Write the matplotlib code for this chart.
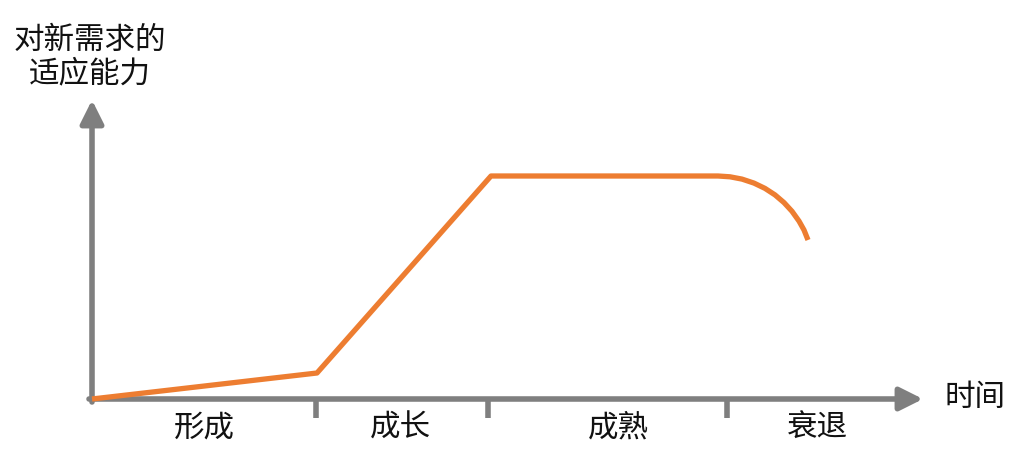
import numpy as np
import matplotlib.pyplot as plt

plt.rcParams['font.family'] = ['Noto Sans CJK SC', 'DejaVu Sans']

# stage boundaries on the time axis (arbitrary units)
stage_bounds = [0, 22.4, 39.6, 63.5]
axis_end_x = 83.1
axis_end_y = 29.9
stages = ['形成', '成长', '成熟', '衰退']
stage_label_x = [11.2, 30.8, 52.6, 72.5]

# adaptability curve
time = [0, 22.5, 39.9, 62.6, 63.8, 65.0, 66.2, 67.3, 68.3, 69.2, 70.0, 70.7,
        71.2, 71.6]
ability = [0, 2.6, 22.3, 22.3, 22.22, 21.99, 21.59, 21.06, 20.41, 19.64, 18.77,
           17.79, 16.9, 15.9]

grey = '#7f7f7f'
orange = '#ed7d31'

fig = plt.figure(figsize=(10.3, 4.58), dpi=100)
ax = fig.add_axes([0, 0, 1, 1])
ax.set_xlim(-9.2, 93.8)
ax.set_ylim(-5.9, 39.9)
ax.axis('off')

arrow = dict(arrowstyle='-|>,head_length=1.0,head_width=0.5', color=grey,
             lw=4, mutation_scale=14, shrinkA=0, shrinkB=0)
ax.annotate('', xy=(axis_end_x, 0), xytext=(-0.3, 0), arrowprops=arrow)
ax.annotate('', xy=(0, axis_end_y), xytext=(0, -0.3), arrowprops=arrow)

for b in stage_bounds[1:]:
    ax.plot([b, b], [0, -1.9], color=grey, lw=4, solid_capstyle='butt')

ax.plot(time, ability, color=orange, lw=3.8, solid_joinstyle='round',
        solid_capstyle='butt', zorder=5)

for x, s in zip(stage_label_x, stages):
    ax.text(x, -2.9, s, ha='center', va='center', fontsize=22, color='#111111')

ax.text(88.3, 0.1, '时间', ha='center', va='center', fontsize=22, color='#111111')
ax.text(-0.2, 34.2, '对新需求的\n适应能力', ha='center', va='center', fontsize=22,
        color='#111111', linespacing=1.1)

fig.savefig('out.png', dpi=100)
